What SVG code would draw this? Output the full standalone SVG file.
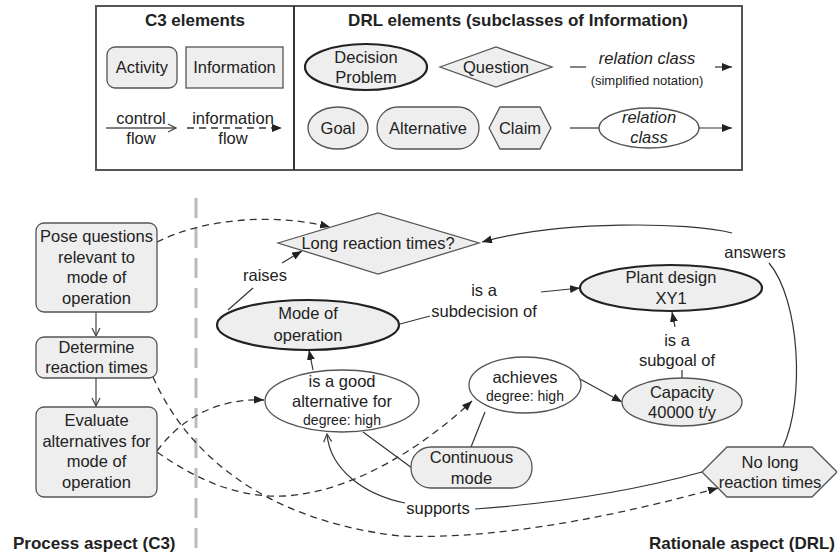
<svg xmlns="http://www.w3.org/2000/svg" width="837" height="555" viewBox="0 0 837 555">
<defs>
<style>
text{font-family:"Liberation Sans",Arial,sans-serif;fill:#222;font-size:16.5px;text-anchor:middle}
.b{font-weight:bold;font-size:17px}
.i{font-style:italic}
.s{font-size:14px}
.xs{font-size:13px}
.nd{fill:#eee;stroke:#555;stroke-width:1.3}
.wh{fill:#fff;stroke:#555;stroke-width:1.3}
.dp{fill:#eee;stroke:#222;stroke-width:2.2}
.ln{fill:none;stroke:#333;stroke-width:1.2}
.cf{fill:none;stroke:#555;stroke-width:1.3}
.df{fill:none;stroke:#333;stroke-width:1.3;stroke-dasharray:7 5}
</style>
<marker id="fa" viewBox="0 0 10 8" refX="10" refY="4" markerWidth="10" markerHeight="8" markerUnits="userSpaceOnUse" orient="auto">
<path d="M0,0 L10,4 L0,8 Z" fill="#222"/>
</marker>
<marker id="oa" viewBox="0 0 10 10" refX="9" refY="5" markerWidth="10" markerHeight="10" markerUnits="userSpaceOnUse" orient="auto">
<path d="M1,1 L9,5 L1,9" fill="none" stroke="#444" stroke-width="1.2"/>
</marker>
</defs>
<rect width="837" height="555" fill="#fff"/>

<g id="legend">
<rect x="96" y="6" width="646" height="164" fill="#fff" stroke="#555" stroke-width="2"/>
<line x1="294" y1="6" x2="294" y2="170" stroke="#333" stroke-width="2"/>
<text class="b" x="195" y="26">C3 elements</text>
<text class="b" x="518" y="26">DRL elements (subclasses of Information)</text>
<g id="lg-activity"><rect class="nd" x="107" y="47" width="70" height="41" rx="8"/><text x="142" y="73">Activity</text></g>
<g id="lg-information"><rect class="nd" x="186" y="47" width="97" height="41"/><text x="234.5" y="73">Information</text></g>
<g id="lg-control"><line class="cf" x1="106" y1="128" x2="176" y2="128" marker-end="url(#oa)"/><text x="141" y="124">control</text><text x="141" y="144">flow</text></g>
<g id="lg-infoflow"><line class="df" x1="187" y1="128" x2="282" y2="128" marker-end="url(#fa)"/><text x="233" y="124">information</text><text x="233" y="144">flow</text></g>
<g id="lg-decision"><ellipse class="dp" cx="366" cy="67" rx="61" ry="23"/><text x="366" y="63">Decision</text><text x="366" y="83">Problem</text></g>
<g id="lg-question"><polygon class="nd" points="440,67 496,47 552,67 496,87"/><text x="496" y="73">Question</text></g>
<g id="lg-rel1"><line class="ln" x1="570" y1="67" x2="586" y2="67"/><text class="i" x="647" y="64">relation class</text><text class="xs" x="647" y="85">(simplified notation)</text><line class="ln" x1="715" y1="67" x2="732" y2="67" marker-end="url(#fa)"/></g>
<g id="lg-goal"><ellipse class="nd" cx="338" cy="128" rx="30" ry="21"/><text x="338" y="134">Goal</text></g>
<g id="lg-alternative"><rect class="nd" x="377" y="107" width="102" height="42" rx="21"/><text x="428" y="134">Alternative</text></g>
<g id="lg-claim"><polygon class="nd" points="489,128 500,107 540,107 551,128 540,149 500,149"/><text x="520" y="134">Claim</text></g>
<g id="lg-rel2"><line class="ln" x1="570" y1="128" x2="599" y2="128"/><ellipse class="wh" cx="649" cy="128" rx="50" ry="20"/><text class="i" x="649" y="123">relation</text><text class="i" x="649" y="143">class</text><line class="ln" x1="699" y1="128" x2="732" y2="128" marker-end="url(#fa)"/></g>
</g>

<line x1="196" y1="198" x2="196" y2="555" stroke="#bbb" stroke-width="3" stroke-dasharray="20 10"/>

<g id="connectors">
<line class="cf" x1="96" y1="312" x2="96" y2="336" marker-end="url(#oa)"/>
<line class="cf" x1="96" y1="378" x2="96" y2="406" marker-end="url(#oa)"/>
<path class="df" d="M157,242 C200,220 270,212 330,227" marker-end="url(#fa)"/>
<path class="df" d="M153,377 C185,450 260,520 400,536 C500,540 620,515 718,488" marker-end="url(#fa)"/>
<path class="df" d="M157,451 C180,420 215,398 264,400" marker-end="url(#fa)"/>
<path class="df" d="M157,452 C200,482 240,498 285,496 C350,492 420,450 472,401" marker-end="url(#fa)"/>
<line class="ln" x1="228" y1="310" x2="253" y2="288"/>
<line class="ln" x1="282" y1="263" x2="302" y2="251" marker-end="url(#fa)"/>
<line class="ln" x1="400" y1="324" x2="430" y2="316"/>
<line class="ln" x1="541" y1="292" x2="580" y2="288" marker-end="url(#fa)"/>
<line class="ln" x1="682" y1="378" x2="682" y2="370"/>
<line class="ln" x1="675" y1="327" x2="672" y2="312" marker-end="url(#fa)"/>
<line class="ln" x1="313" y1="370" x2="309" y2="350" marker-end="url(#fa)"/>
<line class="ln" x1="580" y1="379" x2="622" y2="402" marker-end="url(#fa)"/>
<line class="ln" x1="485" y1="412" x2="471" y2="447"/>
<line class="ln" x1="363" y1="432" x2="412" y2="468"/>
<path class="ln" d="M702,472 Q600,500 475,509"/>
<path class="ln" d="M405,503 C365,495 330,470 327,434" marker-end="url(#oa)"/>
<path class="ln" d="M783,447 C805,400 800,300 769,263"/>
<path class="ln" d="M732,233 C690,222 560,220 482,242" marker-end="url(#fa)"/>
<text x="265" y="281">raises</text>
<text x="484" y="296">is a</text>
<text x="484" y="317">subdecision of</text>
<text x="677" y="346">is a</text>
<text x="677" y="366">subgoal of</text>
<text x="438" y="514">supports</text>
<text x="755" y="258">answers</text>
</g>

<g id="pose"><rect class="nd" x="36" y="223" width="121" height="89" rx="8"/><text x="96.5" y="242">Pose questions</text><text x="96.5" y="263">relevant to</text><text x="96.5" y="283">mode of</text><text x="96.5" y="304">operation</text></g>
<g id="determine"><rect class="nd" x="36" y="337" width="121" height="41" rx="8"/><text x="96.5" y="353">Determine</text><text x="96.5" y="373">reaction times</text></g>
<g id="evaluate"><rect class="nd" x="36" y="407" width="121" height="90" rx="8"/><text x="96.5" y="426">Evaluate</text><text x="96.5" y="447">alternatives for</text><text x="96.5" y="467">mode of</text><text x="96.5" y="488">operation</text></g>

<g id="long-reaction"><polygon class="nd" points="278,243 378,213 479,243 378,274"/><text x="378" y="249">Long reaction times?</text></g>
<g id="mode"><ellipse class="dp" cx="308" cy="325" rx="91" ry="25"/><text x="308" y="319">Mode of</text><text x="308" y="341">operation</text></g>
<g id="plant"><ellipse class="dp" cx="671" cy="288" rx="91" ry="23"/><text x="671" y="283">Plant design</text><text x="671" y="304">XY1</text></g>
<g id="capacity"><ellipse class="nd" cx="682" cy="402" rx="60" ry="24"/><text x="682" y="398">Capacity</text><text x="682" y="418">40000 t/y</text></g>
<g id="achieves"><ellipse class="wh" cx="525" cy="385" rx="56" ry="28"/><text x="525" y="383">achieves</text><text class="s" x="525" y="401">degree: high</text></g>
<g id="good-alt"><ellipse class="wh" cx="342" cy="401" rx="77" ry="31"/><text x="342" y="387">is a good</text><text x="342" y="407">alternative for</text><text class="s" x="342" y="425">degree: high</text></g>
<g id="continuous"><rect class="nd" x="411" y="447" width="121" height="41" rx="20"/><text x="471.5" y="463">Continuous</text><text x="471.5" y="484">mode</text></g>
<g id="no-long"><polygon class="nd" points="702,472 727,447 812,447 837,472 812,497 727,497"/><text x="770" y="468">No long</text><text x="770" y="488">reaction times</text></g>

<text class="b" x="13" y="549" style="text-anchor:start">Process aspect (C3)</text>
<text class="b" x="835" y="549" style="text-anchor:end">Rationale aspect (DRL)</text>
</svg>
